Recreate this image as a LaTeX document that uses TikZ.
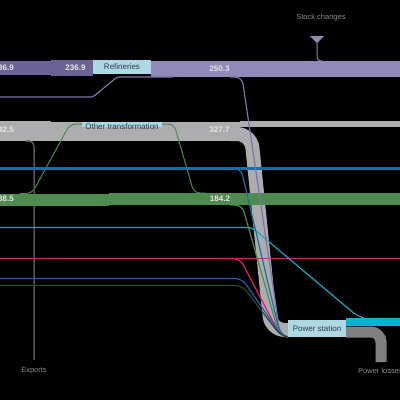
\documentclass[tikz,border=0pt]{standalone}
\usepackage{fontspec}
\setmainfont{Liberation Sans}
\definecolor{bandpurple}{HTML}{6B6396}
\definecolor{lightpurple}{HTML}{9189B7}
\definecolor{linepurple}{HTML}{7D74AD}
\definecolor{boxblue}{HTML}{ADD8E6}
\definecolor{bandgray}{HTML}{ADADB0}
\definecolor{bandgreen}{HTML}{4E8B4E}
\definecolor{steelflow}{HTML}{1B6FA0}
\definecolor{cyanflow}{HTML}{17A5C4}
\definecolor{brightcyan}{HTML}{00B4D4}
\definecolor{pinkflow}{HTML}{E0197D}
\definecolor{blueflow}{HTML}{2A5CA8}
\definecolor{dkgreenflow}{HTML}{234A32}
\definecolor{lossgray}{HTML}{808080}
\definecolor{exportgray}{HTML}{555555}
\definecolor{labelgray}{HTML}{8C8C8C}
\definecolor{nodetext}{HTML}{2E3B4E}
\definecolor{numtext}{HTML}{E6E6E6}
\begin{document}
\begin{tikzpicture}[x=1pt, y=-1pt]
	\tikzstyle{Box} = [rectangle, inner sep=0pt, fill=boxblue, text=nodetext, font=\fontsize{8}{9}\selectfont]
	\tikzstyle{Num} = [inner sep=0pt, text=numtext, font=\fontsize{8}{9}\selectfont\bfseries]
	\tikzstyle{Side} = [inner sep=0pt, text=labelgray, font=\fontsize{7.5}{9}\selectfont]
	\tikzstyle{branch} = [line width=1.2pt, rounded corners=7pt]
	
	\useasboundingbox (0,0) rectangle (400,400);
	\fill [black] (0,0) rectangle (400,400);
	\clip (0,0) rectangle (400,400);
	
	% purple band
	\fill [bandpurple] (0,61) rectangle (51,75);
	\fill [bandpurple] (51,60) rectangle (93,76);
	\fill [lightpurple] (151,61) rectangle (400,77);
	\node (refineries) [Box, minimum width=58pt, minimum height=14pt] at (122,67) {Refineries};
	\draw [linepurple, line width=1.2pt, rounded corners=2pt] (0,97) -- (93,97) -- (117,77) -- (173,77);
	
	% stock changes
	\node (stock) [Side] at (321,18) {Stock changes};
	\fill [lightpurple] (310,36) -- (324,36) -- (317,43) -- cycle;
	\coordinate (stocktip) at (317,43);
	\draw [lightpurple, line width=1pt, rounded corners=4pt] (stocktip) -- (317,61) -- (323,61);
	
	% gray band
	\fill [bandgray] (0,121) rectangle (51,141);
	\fill [bandgray] (51,122) rectangle (240,141);
	\fill [bandgray] (240,121) rectangle (400,127);
	\draw [bandgray, line width=14pt, rounded corners=14pt] (230,134) -- (251,134) -- (271,330) -- (290,330);
	
	% other transformation
	\fill [boxblue] (82,122) rectangle (162,127);
	\node (other) [Box, fill=none] at (122,126.5) {Other transformation};
	\draw [bandgreen, line width=1pt, rounded corners=6pt] (20,193.5) -- (32,193.5) -- (70,124) -- (82,124);
	\draw [bandgreen, line width=1pt, rounded corners=6pt] (162,124) -- (174,124) -- (194,193) -- (206,193);
	
	% exports
	\draw [exportgray, line width=1.5pt, rounded corners=5pt] (26,141) -- (34,141) -- (34,360);
	\node (exports) [Side] at (34,370.5) {Exports};
	
	% green band
	\fill [bandgreen] (0,194) rectangle (109,206);
	\fill [bandgreen] (109,193) rectangle (400,205);
	
	% power station
	\node (powerst) [Box, minimum width=58pt, minimum height=17pt] at (317,328.5) {Power station};
	\fill [brightcyan] (346,318) rectangle (400,326);
	\draw [lossgray, line width=11pt, rounded corners=10pt] (346,332) -- (381,332) -- (381,362);
	\node (losses) [Side, anchor=west] at (358,370.5) {Power losses};
	
	% lines
	\draw [steelflow, line width=3pt] (0,168.5) -- (400,168.5);
	\draw [pinkflow, line width=1.4pt] (0,258.5) -- (400,258.5);
	\draw [cyanflow, line width=1.2pt, rounded corners=4pt] (0,227.5) -- (252,227.5) -- (356,315) -- (364,318);
	
	% branches into power station
	\draw [linepurple, branch] (230,77) -- (242,77) -- (280,334) -- (powerst.south west);
	\draw [steelflow, branch] (230,168.5) -- (241,168.5) -- (280,334) -- (powerst.south west);
	\draw [bandgreen, branch] (230,205) -- (242,205) -- (279,334) -- (powerst.south west);
	\draw [pinkflow, branch] (230,258.5) -- (240,258.5) -- (280,335) -- (powerst.south west);
	\draw [blueflow, branch] (0,278.5) -- (242,278.5) -- (281,335) -- (powerst.south west);
	\draw [dkgreenflow, branch] (0,285.5) -- (242,285.5) -- (281,336) -- (powerst.south west);
	
	% values
	\node (v1) [Num, anchor=east] at (14,68) {36.9};
	\node (v2) [Num] at (75.5,68) {236.9};
	\node (v3) [Num] at (219.5,69) {250.3};
	\node (v4) [Num, anchor=east] at (14,129.5) {42.5};
	\node (v5) [Num] at (219.5,130) {327.7};
	\node (v6) [Num, anchor=east] at (14,199) {88.5};
	\node (v7) [Num] at (220,199) {184.2};
\end{tikzpicture}
\end{document}
